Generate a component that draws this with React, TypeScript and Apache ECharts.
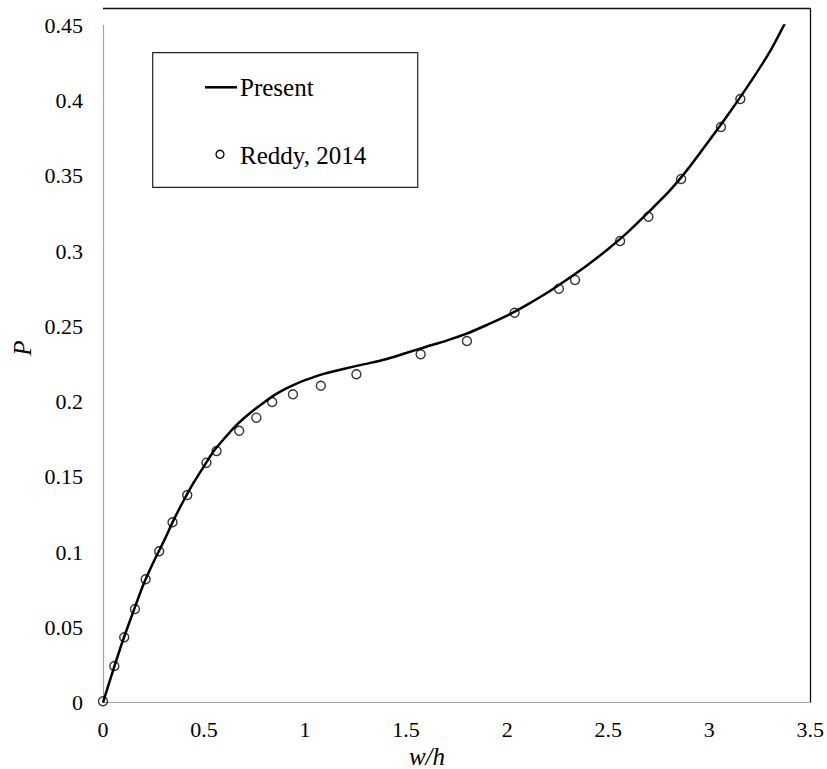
import React, { useEffect, useRef } from "react";
import * as echarts from "echarts";

// Present (curve)
const presentX = [0, 0.05, 0.1, 0.15, 0.2, 0.25, 0.3, 0.35, 0.4, 0.45, 0.5, 0.55, 0.6, 0.65, 0.7, 0.75, 0.8, 0.85, 0.9, 0.95, 1.0, 1.1, 1.2, 1.3, 1.4, 1.5, 1.6, 1.7, 1.8, 1.9, 2.0, 2.1, 2.2, 2.3, 2.4, 2.5, 2.6, 2.7, 2.8, 2.9, 3.0, 3.1, 3.2, 3.3, 3.375];
const presentY = [0, 0.0215, 0.042, 0.0605, 0.0785, 0.0935, 0.107, 0.1215, 0.1345, 0.1465, 0.1572, 0.1675, 0.1755, 0.183, 0.1893, 0.1948, 0.1998, 0.2045, 0.2083, 0.2115, 0.2143, 0.2188, 0.2221, 0.2251, 0.2282, 0.2323, 0.2365, 0.2406, 0.2452, 0.251, 0.2572, 0.2645, 0.2725, 0.2815, 0.291, 0.3015, 0.313, 0.326, 0.3395, 0.3555, 0.3735, 0.392, 0.4115, 0.4325, 0.4515];

// Reddy, 2014 (markers)
const reddyX = [0, 0.056, 0.105, 0.158, 0.211, 0.278, 0.344, 0.417, 0.512, 0.562, 0.674, 0.759, 0.837, 0.94, 1.078, 1.254, 1.572, 1.801, 2.037, 2.256, 2.336, 2.559, 2.699, 2.861, 3.058, 3.154];
const reddyY = [0.001, 0.0244, 0.0435, 0.0623, 0.082, 0.1006, 0.1199, 0.138, 0.1595, 0.1672, 0.1807, 0.1894, 0.1998, 0.2049, 0.2106, 0.2182, 0.2315, 0.2403, 0.2591, 0.2751, 0.2809, 0.3068, 0.3229, 0.348, 0.3825, 0.4011];

const xTicks = [0, 0.5, 1, 1.5, 2, 2.5, 3, 3.5];
const yTicks = [0, 0.05, 0.1, 0.15, 0.2, 0.25, 0.3, 0.35, 0.4, 0.45];

const seriesNames = ["Present", "Reddy, 2014"];
const axisNames = { x: "w/h", y: "P" };

const FONT = "Liberation Serif, serif";

export default function App() {
  const ref = useRef<HTMLDivElement>(null);
  useEffect(() => {
    if (!ref.current) return;
    const chart = echarts.init(ref.current, undefined, { renderer: "svg" });
    const fmt = (v: number) => String(Number(v.toFixed(2)));
    const labelStyle = {
      color: "#000",
      fontFamily: FONT,
      fontSize: 22,
      formatter: fmt,
    };
    chart.setOption({
      animation: false,
      backgroundColor: "#fff",
      textStyle: { fontFamily: FONT },
      grid: { left: 103, right: 16, top: 25.4, bottom: 66.3, containLabel: false },
      xAxis: {
        type: "value",
        min: xTicks[0],
        max: xTicks[xTicks.length - 1],
        interval: 0.5,
        axisLine: { show: true, lineStyle: { color: "#a3a3a3", width: 1.2 } },
        axisTick: { show: false },
        splitLine: { show: false },
        axisLabel: { ...labelStyle, margin: 16 },
      },
      yAxis: {
        type: "value",
        min: yTicks[0],
        max: yTicks[yTicks.length - 1],
        interval: 0.05,
        axisLine: { show: true, lineStyle: { color: "#a3a3a3", width: 1.2 } },
        axisTick: { show: false },
        splitLine: { show: false },
        axisLabel: { ...labelStyle, margin: 20 },
      },
      series: [
        {
          name: seriesNames[0],
          type: "line",
          data: presentX.map((x, i) => [x, presentY[i]]),
          showSymbol: false,
          smooth: 0.25,
          lineStyle: { color: "#000", width: 2.5 },
          z: 2,
        },
        {
          name: seriesNames[1],
          type: "scatter",
          data: reddyX.map((x, i) => [x, reddyY[i]]),
          symbol: "circle",
          symbolSize: 9,
          itemStyle: { color: "rgba(0,0,0,0)", borderColor: "#000", borderWidth: 1.4 },
          z: 3,
        },
      ],
      graphic: [
        // plot frame top & right
        { type: "line", shape: { x1: 103, y1: 8.5, x2: 810.5, y2: 8.5 }, style: { stroke: "#111", lineWidth: 1.3 } },
        { type: "line", shape: { x1: 810.5, y1: 8.5, x2: 810.5, y2: 702.7 }, style: { stroke: "#111", lineWidth: 1.3 } },
        // axis names
        {
          type: "text",
          x: 22,
          y: 348,
          rotation: Math.PI / 2,
          style: { text: axisNames.y, font: `italic 25px ${FONT}`, fill: "#000", align: "center", verticalAlign: "middle" },
        },
        {
          type: "text",
          x: 427,
          y: 756,
          style: { text: axisNames.x, font: `italic 25px ${FONT}`, fill: "#000", align: "center", verticalAlign: "middle" },
        },
        // legend
        {
          type: "rect",
          shape: { x: 152.7, y: 52.7, width: 265, height: 134.6 },
          style: { fill: "#fff", stroke: "#222", lineWidth: 1.2 },
          z: 10,
        },
        { type: "line", shape: { x1: 205, y1: 87.3, x2: 237, y2: 87.3 }, style: { stroke: "#000", lineWidth: 2.5 }, z: 11 },
        {
          type: "text",
          x: 240,
          y: 87.5,
          style: { text: seriesNames[0], font: `25px ${FONT}`, fill: "#000", align: "left", verticalAlign: "middle" },
          z: 11,
        },
        { type: "circle", shape: { cx: 220, cy: 154.3, r: 4 }, style: { fill: "rgba(0,0,0,0)", stroke: "#000", lineWidth: 1.3 }, z: 11 },
        {
          type: "text",
          x: 240,
          y: 155,
          style: { text: seriesNames[1], font: `25px ${FONT}`, fill: "#000", align: "left", verticalAlign: "middle" },
          z: 11,
        },
      ],
    });
    return () => chart.dispose();
  }, []);
  return <div ref={ref} style={{ position: "absolute", left: 0, top: 0, width: 827, height: 769 }} />;
}
